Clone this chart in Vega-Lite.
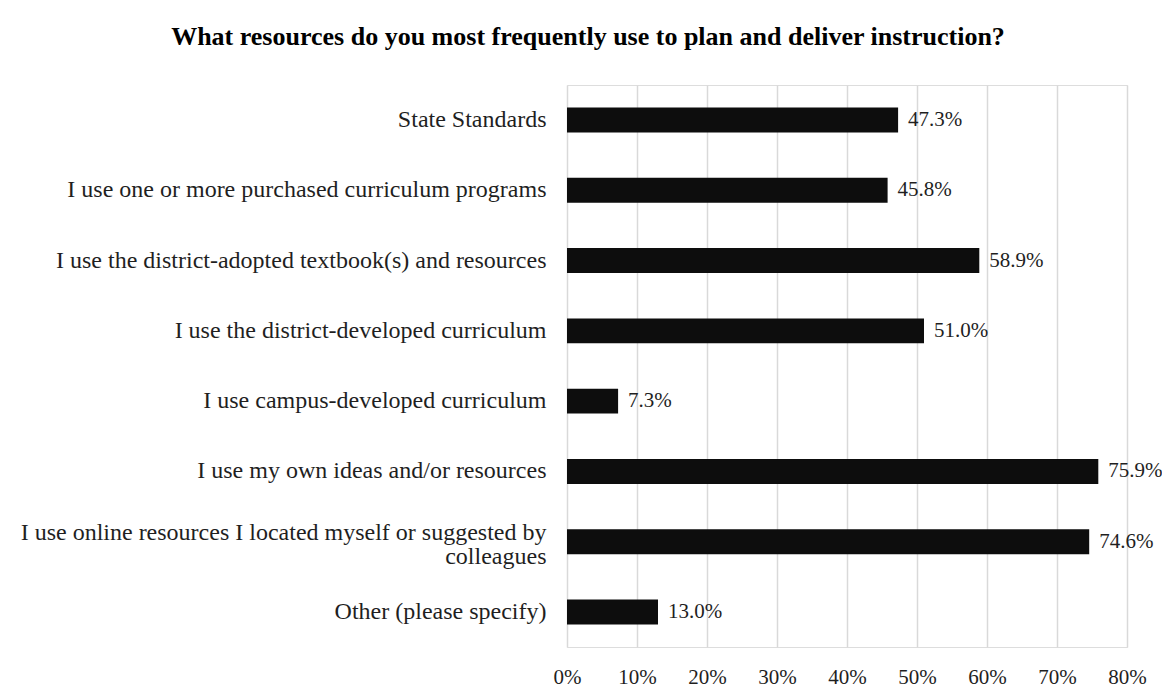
{
  "$schema": "https://vega.github.io/schema/vega-lite/v6.json",
  "autosize": "none",
  "width": 560,
  "height": 562,
  "padding": {"left": 567, "top": 85, "right": 35, "bottom": 48},
  "background": "white",
  "title": {
    "text": "What resources do you most frequently use to plan and deliver instruction?",
    "font": "Liberation Serif",
    "fontSize": 26,
    "fontWeight": "bold",
    "color": "#000000",
    "anchor": "middle",
    "frame": "group",
    "dx": -259,
    "offset": 35
  },
  "data": {
    "values": [
      {"resource": "State Standards", "pct": 0.473},
      {"resource": "I use one or more purchased curriculum programs", "pct": 0.458},
      {"resource": "I use the district-adopted textbook(s) and resources", "pct": 0.589},
      {"resource": "I use the district-developed curriculum", "pct": 0.510},
      {"resource": "I use campus-developed curriculum", "pct": 0.073},
      {"resource": "I use my own ideas and/or resources", "pct": 0.759},
      {"resource": "I use online resources I located myself or suggested by colleagues", "pct": 0.746},
      {"resource": "Other (please specify)", "pct": 0.130}
    ]
  },
  "encoding": {
    "y": {
      "field": "resource",
      "type": "nominal",
      "sort": null,
      "scale": {"paddingInner": 0.645, "paddingOuter": 0.32},
      "axis": {
        "title": null,
        "domain": false,
        "ticks": false,
        "grid": false,
        "labelFont": "Liberation Serif",
        "labelFontSize": 24,
        "labelColor": "#1f1f1f",
        "labelPadding": 21,
        "labelLimit": 600,
        "labelLineHeight": 24,
        "labelOffset": {
          "condition": {"test": "datum.value == 'I use online resources I located myself or suggested by colleagues'", "value": -9},
          "value": 0
        },
        "labelExpr": "datum.value == 'I use online resources I located myself or suggested by colleagues' ? ['I use online resources I located myself or suggested by', 'colleagues'] : datum.value"
      }
    }
  },
  "layer": [
    {
      "mark": {"type": "bar", "color": "#0d0d0d"},
      "encoding": {
        "x": {
          "field": "pct",
          "type": "quantitative",
          "scale": {"domain": [0, 0.8], "nice": false},
          "axis": {
            "title": null,
            "format": ".0%",
            "values": [0, 0.1, 0.2, 0.3, 0.4, 0.5, 0.6, 0.7, 0.8],
            "domain": false,
            "ticks": false,
            "grid": true,
            "gridColor": "#d9d9d9",
            "gridWidth": 1.5,
            "labelFlush": false,
            "labelOverlap": false,
            "labelFont": "Liberation Serif",
            "labelFontSize": 21,
            "labelColor": "#1f1f1f",
            "labelPadding": 19
          }
        }
      }
    },
    {
      "mark": {"type": "text", "align": "left", "baseline": "middle", "dx": 10, "font": "Liberation Serif", "fontSize": 21, "color": "#1f1f1f"},
      "encoding": {
        "x": {"field": "pct", "type": "quantitative"},
        "text": {"field": "pct", "type": "quantitative", "format": ".1%"}
      }
    }
  ]
}
